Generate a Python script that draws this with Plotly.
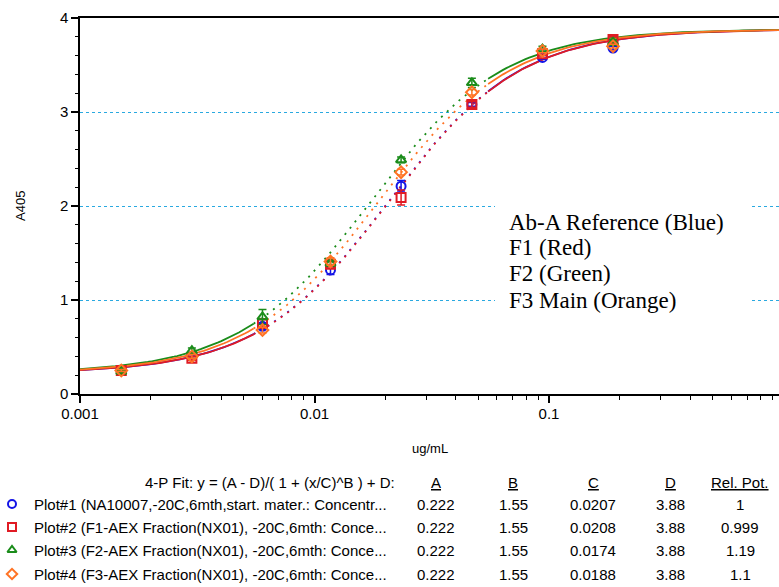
import numpy as np
import plotly.graph_objects as go

W, H = 779, 587

# ---- data ----
conc = [0.0015, 0.003, 0.006, 0.0117, 0.0234, 0.0469, 0.0938, 0.1875]
series_names = ["Ab-A Reference", "F1", "F2", "F3 Main"]
y_blue   = [0.25, 0.40, 0.72, 1.32, 2.21, 3.08, 3.58, 3.68]
y_red    = [0.25, 0.38, 0.75, 1.38, 2.09, 3.08, 3.62, 3.77]
y_green  = [0.24, 0.46, 0.82, 1.39, 2.49, 3.31, 3.67, 3.74]
y_orange = [0.25, 0.40, 0.68, 1.41, 2.36, 3.21, 3.65, 3.70]
e_blue   = [0.01, 0.02, 0.03, 0.05, 0.06, 0.02, 0.02, 0.02]
e_red    = [0.01, 0.02, 0.04, 0.03, 0.08, 0.03, 0.02, 0.03]
e_green  = [0.01, 0.03, 0.08, 0.03, 0.03, 0.05, 0.03, 0.03]
e_orange = [0.01, 0.02, 0.03, 0.04, 0.03, 0.03, 0.02, 0.02]

fit_A = [0.222, 0.222, 0.222, 0.222]
fit_B = [1.55, 1.55, 1.55, 1.55]
fit_C = [0.0207, 0.0208, 0.0174, 0.0188]
fit_D = [3.88, 3.88, 3.88, 3.88]
rel_pot = ["1", "0.999", "1.19", "1.1"]
table_labels = [
    "Plot#1 (NA10007,-20C,6mth,start. mater.: Concentr...",
    "Plot#2 (F1-AEX Fraction(NX01), -20C,6mth: Conce...",
    "Plot#3 (F2-AEX Fraction(NX01), -20C,6mth: Conce...",
    "Plot#4 (F3-AEX Fraction(NX01), -20C,6mth: Conce...",
]
box_lines = ["Ab-A Reference (Blue)", "F1 (Red)", "F2 (Green)", "F3 Main (Orange)"]

colors = ["#1414e6", "#e01b24", "#1a8c1a", "#ff7324"]
symbols = ["circle-open", "square-open", "triangle-up-open", "diamond-open"]
ys = [y_blue, y_red, y_green, y_orange]
es = [e_blue, e_red, e_green, e_orange]

# ---- geometry (pixels) ----
PL, PR, PT, PB = 80, 779, 18, 394
dec_px = 234.5
x_lo = -3
x_hi = x_lo + (PR - PL) / dec_px

def px(x):
    return x / W

def py(y):
    return 1 - y / H

fig = go.Figure()

def fourpl(x, A, B, C, D):
    return (A - D) / (1 + (x / C) ** B) + D

xs_left = np.logspace(-3, np.log10(0.0055), 60)
xs_mid = np.logspace(np.log10(0.0055), np.log10(0.055), 120)
xs_right = np.logspace(np.log10(0.055), 0.0, 80)

for i in range(4):
    for xs, dash in [(xs_left, "solid"), (xs_mid, "2px,6px"), (xs_right, "solid")]:
        fig.add_trace(go.Scatter(
            x=xs, y=fourpl(xs, fit_A[i], fit_B[i], fit_C[i], fit_D[i]),
            mode="lines", line=dict(color=colors[i], width=1.8, dash=dash),
            hoverinfo="skip", showlegend=False, xaxis="x", yaxis="y"))

for i in range(4):
    fig.add_trace(go.Scatter(
        x=conc, y=ys[i], mode="markers",
        marker=dict(symbol=symbols[i], size=9, color=colors[i], line=dict(width=2, color=colors[i])),
        error_y=dict(type="data", array=es[i], color=colors[i], thickness=1.5, width=4),
        name=series_names[i], showlegend=False, xaxis="x", yaxis="y"))

# legend symbols in bottom table (pixel-space helper axes)
row_y = [504, 527, 550, 574]
fig.add_trace(go.Scatter(
    x=[12] * 4, y=row_y, mode="markers",
    marker=dict(symbol=symbols, size=8, color=colors, line=dict(width=2, color=colors)),
    showlegend=False, hoverinfo="skip", xaxis="x2", yaxis="y2"))

grid_col = "#2aa9e0"
fig.update_layout(
    width=W, height=H,
    margin=dict(l=0, r=0, t=0, b=0),
    paper_bgcolor="white", plot_bgcolor="white",
    font=dict(family="Liberation Sans, Arial, sans-serif", color="black", size=15),
    xaxis=dict(
        type="log", range=[x_lo, x_hi], domain=[PL / W, 1],
        showline=True, linecolor="black", linewidth=1.5, mirror=True,
        ticks="outside", ticklen=7, tickwidth=1.5, tickcolor="black",
        tickvals=[0.001, 0.01, 0.1], ticktext=["0.001", "0.01", "0.1"],
        tickfont=dict(size=15), ticklabelstandoff=-2,
        minor=dict(ticks="outside", ticklen=4, tickwidth=1, tickcolor="black", dtick="D1", showgrid=False),
        showgrid=False, zeroline=False, automargin=False,
    ),
    yaxis=dict(
        range=[0, 4], domain=[py(PB), py(PT)],
        showline=True, linecolor="black", linewidth=1.5,
        ticks="outside", ticklen=7, tickwidth=1.5, tickcolor="black",
        dtick=1, tickfont=dict(size=15),
        minor=dict(ticks="outside", ticklen=3, tickwidth=1, tickcolor="black", dtick=0.2, showgrid=False),
        showgrid=True, gridcolor=grid_col, gridwidth=1.2, griddash="dot",
        zeroline=False, automargin=False,
    ),
    xaxis2=dict(domain=[0, 1], range=[0, W], visible=False, anchor="y2", fixedrange=True),
    yaxis2=dict(domain=[0, py(PB)], range=[H, PB], visible=False, anchor="x2", fixedrange=True),
)

# white box behind the annotation text
fig.add_shape(type="rect", xref="paper", yref="paper",
              x0=px(495), x1=px(752), y0=py(318), y1=py(203),
              fillcolor="white", line=dict(width=0), layer="above")

box_y = [222, 247, 273, 300]
for t, yy in zip(box_lines, box_y):
    fig.add_annotation(xref="paper", yref="paper", x=px(507), y=py(yy),
                       xanchor="left", yanchor="middle", align="left", showarrow=False,
                       text=t,
                       font=dict(family="Liberation Serif, Times New Roman, serif", size=23, color="black"))

# axis titles
fig.add_annotation(xref="paper", yref="paper", x=px(20), y=py(206), textangle=-90,
                   xanchor="center", yanchor="middle",
                   text="A405", showarrow=False, font=dict(size=13))
fig.add_annotation(xref="paper", yref="paper", x=px(430), y=py(448),
                   xanchor="center", yanchor="middle",
                   text="ug/mL", showarrow=False, font=dict(size=13))

# table
TF = 15
fig.add_annotation(xref="paper", yref="paper", x=px(397), y=py(482), xanchor="right", yanchor="middle",
                   text="4-P Fit: y = (A - D)/( 1 + (x/C)^B ) + D:", showarrow=False, font=dict(size=TF))
col_x = [436, 513, 593, 670, 740]
for cx, h in zip(col_x, ["A", "B", "C", "D", "Rel. Pot."]):
    fig.add_annotation(xref="paper", yref="paper", x=px(cx), y=py(482), xanchor="center", yanchor="middle",
                       text="<u>" + h + "</u>", showarrow=False, font=dict(size=TF))
for i in range(4):
    fig.add_annotation(xref="paper", yref="paper", x=px(32), y=py(row_y[i]), xanchor="left", yanchor="middle",
                       text=table_labels[i], showarrow=False, font=dict(size=TF))
    vals = [f"{fit_A[i]:g}", f"{fit_B[i]:g}", f"{fit_C[i]:g}", f"{fit_D[i]:g}", rel_pot[i]]
    for cx, v in zip(col_x, vals):
        fig.add_annotation(xref="paper", yref="paper", x=px(cx), y=py(row_y[i]), xanchor="center", yanchor="middle",
                           text=v, showarrow=False, font=dict(size=TF))

fig.write_html("out.html", config={"displayModeBar": False},
               post_script="document.body.style.margin='0';document.body.style.overflow='hidden';")
